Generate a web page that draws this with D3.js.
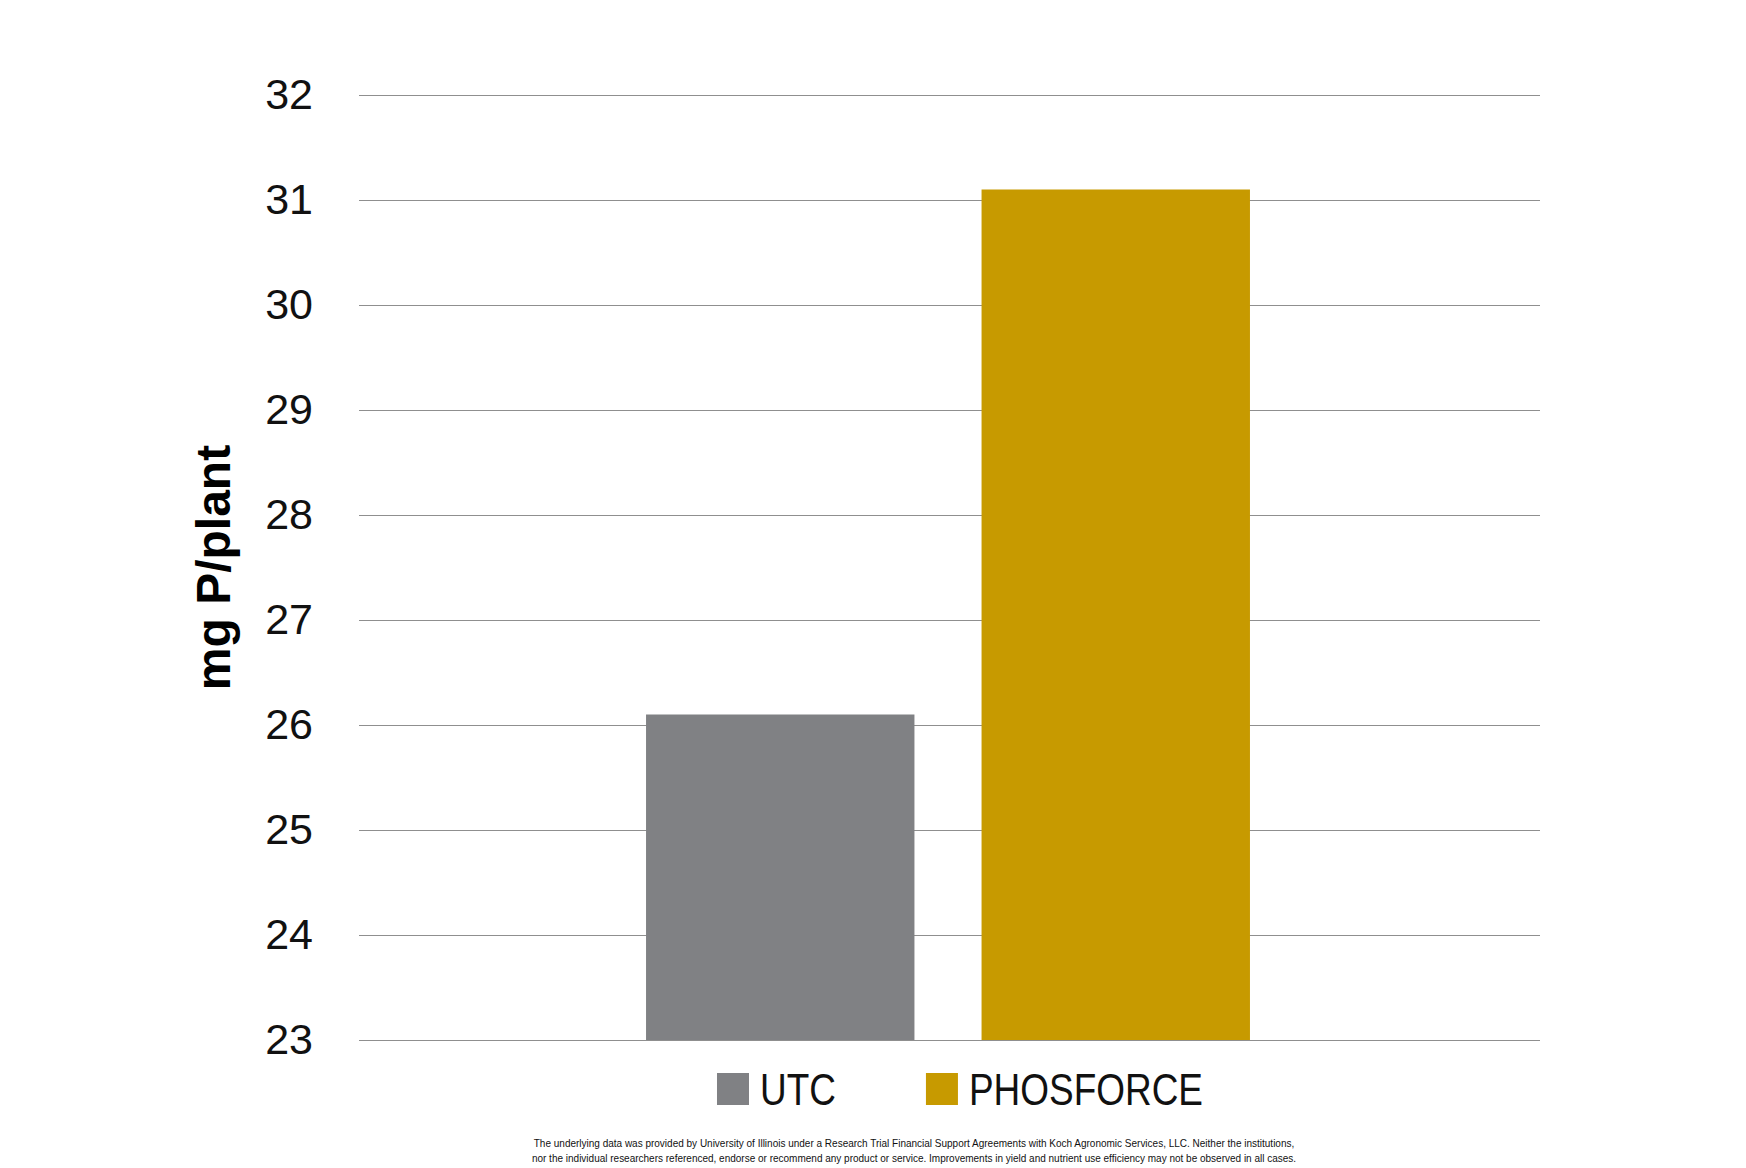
<!DOCTYPE html>
<html>
<head>
<meta charset="utf-8">
<script src="https://cdn.jsdelivr.net/npm/d3@7"></script>
<style>
  body { margin: 0; background: #fff; }
  .tick text { font-family: "Liberation Sans", Arial, sans-serif; }
</style>
</head>
<body>
<div id="chart"></div>
<script>
const categories = ["UTC", "PHOSFORCE"];
const values = [26.1, 31.1];
const colors = ["#808184", "#c79a00"];
const yTicks = [23, 24, 25, 26, 27, 28, 29, 30, 31, 32];
const yTitle = "mg P/plant";
const footnote = [
  "The underlying data was provided by University of Illinois under a Research Trial Financial Support Agreements with Koch Agronomic Services, LLC. Neither the institutions,",
  "nor the individual researchers referenced, endorse or recommend any product or service. Improvements in yield and nutrient use efficiency may not be observed in all cases.",
];

const W = 1746,
  H = 1168;
const margin = { top: 95, right: 206, bottom: 128, left: 359 };
const width = W - margin.left - margin.right,
  height = H - margin.top - margin.bottom;
const condense = 0.84; // the original type is a narrow gothic

const svg = d3
  .select("#chart")
  .append("svg")
  .attr("width", W)
  .attr("height", H);

const g = svg
  .append("g")
  .attr("transform", `translate(${margin.left},${margin.top})`);

const y = d3.scaleLinear().domain([23, 32]).range([height, 0]);

const x = d3
  .scaleBand()
  .domain(categories)
  .range([-1.5, width - 1.5])
  .paddingInner(0.2)
  .paddingOuter(0.86);

// gridlines
g.append("g")
  .attr("class", "grid")
  .call(d3.axisLeft(y).tickValues(yTicks).tickSize(-width).tickFormat(""))
  .call((s) => s.select(".domain").remove())
  .call((s) =>
    s.selectAll("line").attr("stroke", "#8f8f8f").attr("stroke-width", 1.2)
  );

// tick labels
g.append("g")
  .attr("class", "yaxis")
  .call(d3.axisLeft(y).tickValues(yTicks).tickSize(0).tickPadding(46))
  .call((s) => s.select(".domain").remove())
  .call((s) =>
    s
      .selectAll("text")
      .attr("fill", "#111")
      .style("font-size", "43px")
  );

// bars
g.selectAll(".bar")
  .data(categories)
  .enter()
  .append("rect")
  .attr("class", "bar")
  .attr("x", (d) => x(d))
  .attr("y", (d, i) => y(values[i]))
  .attr("width", x.bandwidth())
  .attr("height", (d, i) => height - y(values[i]))
  .attr("fill", (d, i) => colors[i]);

// y title
svg
  .append("text")
  .attr(
    "transform",
    `translate(230,${margin.top + height / 2}) rotate(-90)`
  )
  .attr("text-anchor", "middle")
  .style("font-family", '"Liberation Sans", Arial, sans-serif')
  .style("font-weight", "bold")
  .style("font-size", "48px")
  .attr("fill", "#000")
  .text(yTitle);

// legend
const legend = svg.append("g").attr("class", "legend");
const sw = 32;
const items = legend
  .selectAll(".item")
  .data(categories)
  .enter()
  .append("g")
  .attr("class", "item");

items
  .append("rect")
  .attr("width", sw)
  .attr("height", sw)
  .attr("fill", (d, i) => colors[i]);

items
  .append("text")
  .attr("transform", `translate(${sw + 11},${sw}) scale(${condense},1)`)
  .style("font-family", '"Liberation Sans", Arial, sans-serif')
  .style("font-size", "44px")
  .attr("fill", "#111")
  .text((d) => d);

let offset = 0;
items.each(function (d, i) {
  const w =
    sw + 11 + this.querySelector("text").getComputedTextLength() * condense;
  d3.select(this).attr("transform", `translate(${offset},0)`);
  offset += w + 90;
});
const legendWidth = offset - 90;
legend.attr(
  "transform",
  `translate(${960 - legendWidth / 2},${margin.top + height + 33})`
);

// footnote
svg
  .append("g")
  .selectAll("text")
  .data(footnote)
  .enter()
  .append("text")
  .attr("transform", (d, i) => `translate(914,${1147 + i * 14.5}) scale(0.91,1)`)
  .attr("text-anchor", "middle")
  .style("font-family", '"Liberation Sans", Arial, sans-serif')
  .style("font-size", "11px")
  .attr("fill", "#111")
  .text((d) => d);
</script>
</body>
</html>
